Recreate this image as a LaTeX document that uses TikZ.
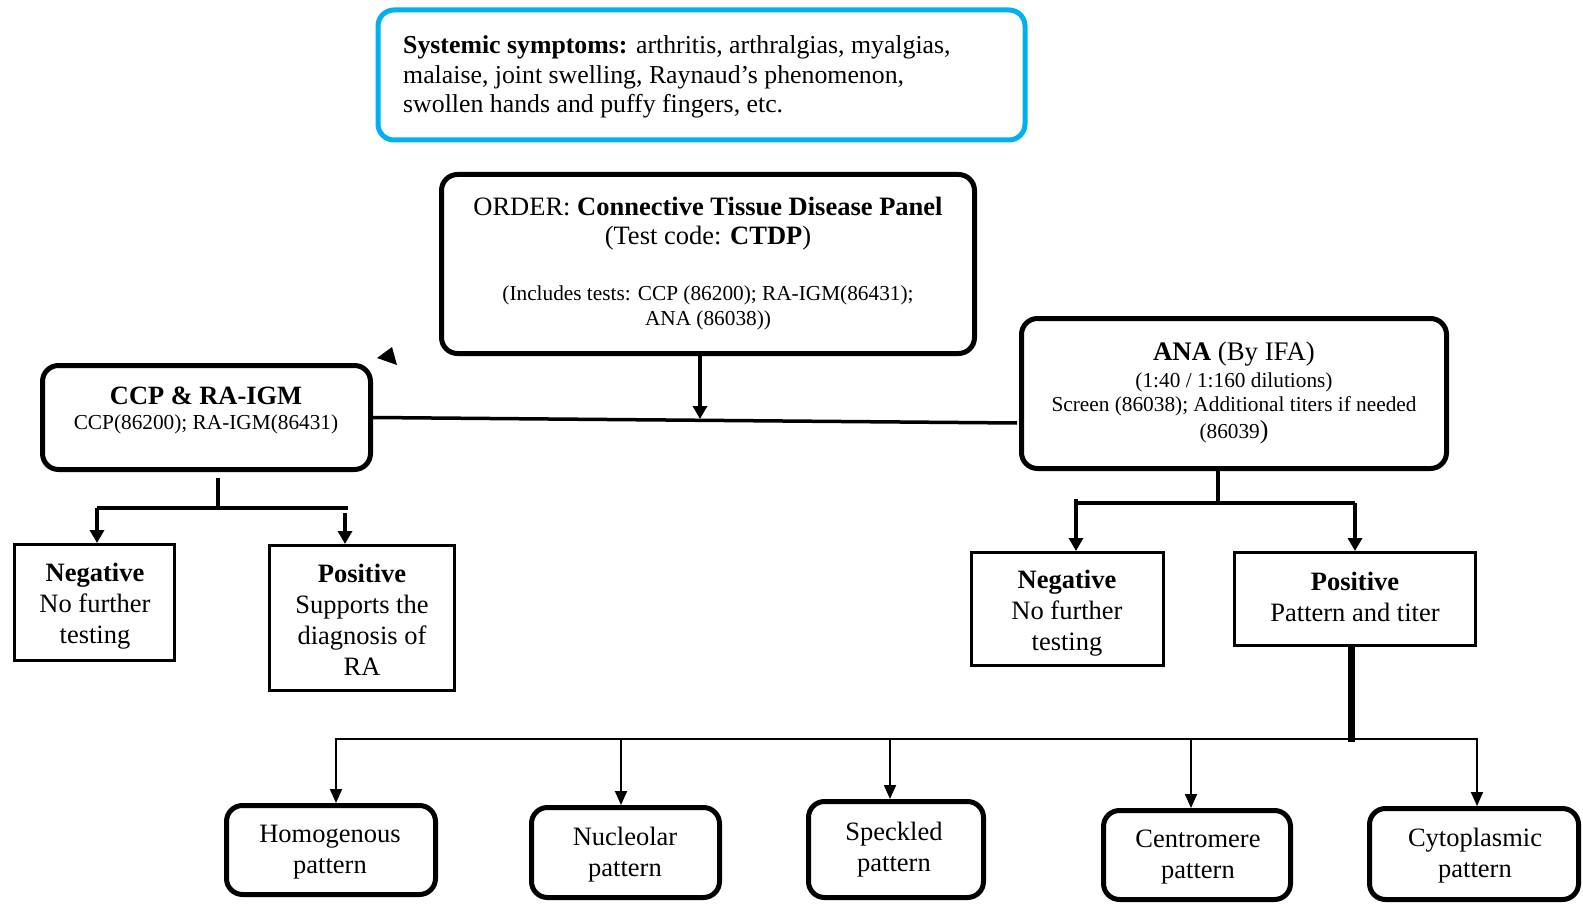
\documentclass[tikz,border=0pt]{standalone}
\usepackage{fontspec}
\setmainfont{Liberation Serif}
\usetikzlibrary{arrows.meta}
\definecolor{cyanb}{HTML}{00B0F0}
\begin{document}
\begin{tikzpicture}[x=1pt,y=-1pt,
  rbox/.style={draw, line width=5pt, rounded corners=16pt, inner sep=0pt},
  sbox/.style={draw, line width=3pt, inner sep=0pt},
  big/.style={font=\fontsize{26.5}{31}\selectfont, align=center, inner sep=0pt},
  small/.style={font=\fontsize{21.3}{25}\selectfont, inner sep=0pt, anchor=base},
  bigb/.style={font=\fontsize{26.5}{31}\selectfont, inner sep=0pt, anchor=base},
  conn/.style={line width=3.5pt},
  arr/.style={line width=3.5pt, -{Triangle[length=13pt,width=14pt]}},
  tarr/.style={line width=2pt, -{Triangle[length=14pt,width=12pt]}},
]
\useasboundingbox (0,0) rectangle (1583,904);

% top symptoms box
\node[rbox, draw=cyanb, minimum width=647pt, minimum height=130pt] (sys) at (701.5,75) {};
\node[font=\fontsize{25.8}{29.5}\selectfont, align=left, inner sep=0pt, anchor=west] (sysT) at (403,77)
  {\textbf{Systemic symptoms:} arthritis, arthralgias, myalgias,\\
   malaise, joint swelling, Raynaud’s phenomenon,\\
   swollen hands and puffy fingers, etc.};

% order box
\node[rbox, minimum width=533pt, minimum height=179pt] (ctdp) at (708,264) {};
\node[bigb] (ctdpT1) at (708,216) {ORDER: \textbf{Connective Tissue Disease Panel}};
\node[bigb] (ctdpT2) at (708,245) {(Test code: \textbf{CTDP})};
\node[small] (ctdpT3) at (708,301) {(Includes tests: CCP (86200); RA-IGM(86431);};
\node[small] (ctdpT4) at (708,325) {ANA (86038))};

% CCP box
\node[rbox, minimum width=328pt, minimum height=104pt] (ccp) at (206.5,417.5) {};
\node[font=\fontsize{26.4}{30}\selectfont\bfseries, inner sep=0pt, anchor=base] (ccpT1) at (206,404) {CCP \& RA-IGM};
\node[small] (ccpT2) at (206,429) {CCP(86200); RA-IGM(86431)};

% ANA box
\node[rbox, minimum width=425pt, minimum height=150pt] (ana) at (1234,393.5) {};
\node[font=\fontsize{26.8}{30}\selectfont, inner sep=0pt, anchor=base] (anaT1) at (1234,360) {\textbf{ANA} (By IFA)};
\node[small] (anaT2) at (1234,387) {(1:40 / 1:160 dilutions)};
\node[small] (anaT3) at (1234,411) {Screen (86038); Additional titers if needed};
\node[small] (anaT4) at (1234,438) {(86039{\fontsize{26}{26}\selectfont)}};

% stray arrowhead
\fill (392,347) -- (377,358) -- (397,365) -- cycle;

% order -> line
\coordinate (j1) at (700,419);
\draw[arr] (ctdp.south -| j1) -- (j1);
\coordinate (anaIn) at (1017,423);
\draw[conn] (ccp.east) -- (anaIn);

% CCP outcome boxes
\node[sbox, minimum width=160pt, minimum height=116pt] (negL) at (94.5,602.5) {};
\node[big] (negLT) at (95,606) {\textbf{Negative}\\No further\\testing};
\node[sbox, minimum width=185pt, minimum height=145pt] (posL) at (362,618) {};
\node[big] (posLT) at (362,619.5) {\textbf{Positive}\\Supports the\\diagnosis of\\RA};

\coordinate (ccpS) at (218,478);
\coordinate (ccpJ) at (218,508);
\coordinate (bL) at (97,508);
\coordinate (bR) at (345,508);
\draw[conn] (ccpS) -- (ccpJ);
\draw[conn] (bL) -- ([xshift=3pt]bR);
\draw[arr] (bL) -- (bL |- negL.north);
\draw[arr] ([yshift=-5pt]bR) -- (bR |- posL.north);

% ANA outcome boxes
\node[sbox, minimum width=192pt, minimum height=113pt] (negR) at (1067.5,609) {};
\node[big] (negRT) at (1067,613) {\textbf{Negative}\\No further\\testing};
\node[sbox, minimum width=241pt, minimum height=93pt] (posR) at (1355,599) {};
\node[big] (posRT) at (1355,597) {\textbf{Positive}\\Pattern and titer};

\coordinate (anaJ) at (1218,503);
\coordinate (aL) at (1076,503);
\coordinate (aR) at (1355,503);
\draw[conn] (ana.south -| anaJ) -- (anaJ);
\draw[conn] (aL) -- (aR);
\draw[arr] ([yshift=4pt]aL) -- (aL |- negR.north);
\draw[arr] (aR) -- (aR |- posR.north);

% patterns
\node[rbox, minimum width=209pt, minimum height=89pt] (homo) at (331,850) {};
\node[big] (homoT) at (330,852.5) {Homogenous\\pattern};
\node[rbox, minimum width=188pt, minimum height=90pt] (nucl) at (625.5,852.5) {};
\node[big] (nuclT) at (625,855) {Nucleolar\\pattern};
\node[rbox, minimum width=175pt, minimum height=96pt] (spec) at (896,849.5) {};
\node[big] (specT) at (894,849.5) {Speckled\\pattern};
\node[rbox, minimum width=187pt, minimum height=89pt] (cent) at (1197,855) {};
\node[big] (centT) at (1198,857.5) {Centromere\\pattern};
\node[rbox, minimum width=209pt, minimum height=91pt] (cyto) at (1474,854) {};
\node[big] (cytoT) at (1475,856) {Cytoplasmic\\pattern};

\coordinate (pJ) at (1351,742);
\draw[line width=7pt] (posR.south -| pJ) -- (pJ);
\coordinate (p1) at (336,739);
\coordinate (p2) at (621,739);
\coordinate (p3) at (890,739);
\coordinate (p4) at (1191,739);
\coordinate (p5) at (1477,739);
\draw[line width=2.5pt] ([xshift=-1pt]p1) -- ([xshift=1pt]p5);
\draw[tarr] (p1) -- (p1 |- homo.north);
\draw[tarr] (p2) -- (p2 |- nucl.north);
\draw[tarr] (p3) -- (p3 |- spec.north);
\draw[tarr] (p4) -- (p4 |- cent.north);
\draw[tarr] (p5) -- (p5 |- cyto.north);
\end{tikzpicture}
\end{document}
